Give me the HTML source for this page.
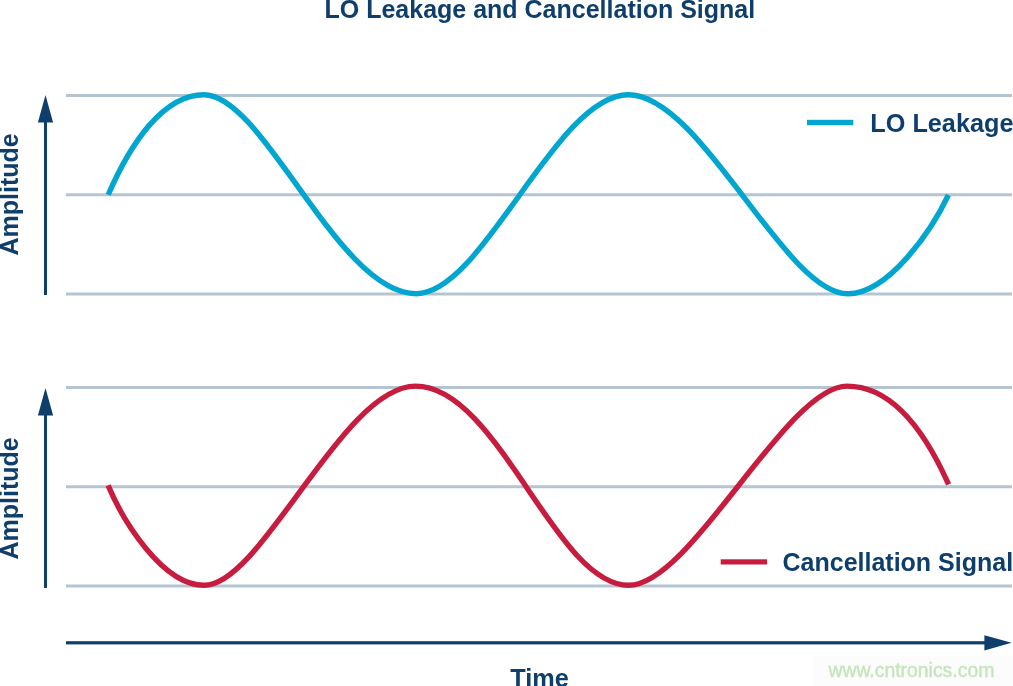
<!DOCTYPE html>
<html><head><meta charset="utf-8"><style>
html,body{margin:0;padding:0;background:#fff;}
body{width:1013px;height:686px;overflow:hidden;position:relative;}
svg{display:block;position:absolute;left:0;top:0;}
text{font-family:"Liberation Sans",sans-serif;}
</style></head><body>
<svg width="1013" height="686" viewBox="0 0 1013 686">
<rect x="0" y="0" width="1013" height="686" fill="#fff"/>
<g fill="none" stroke="#B5C4D2" stroke-width="3">
<line x1="66" y1="95.5" x2="1012" y2="95.5"/>
<line x1="66" y1="194.8" x2="1012" y2="194.8"/>
<line x1="66" y1="294.1" x2="1012" y2="294.1"/>
<line x1="66" y1="387.4" x2="1012" y2="387.4"/>
<line x1="66" y1="486.8" x2="1012" y2="486.8"/>
<line x1="66" y1="586.1" x2="1012" y2="586.1"/>
</g>
<g fill="#0E3F6C">
<rect x="44" y="120" width="3" height="175"/>
<path d="M45.5 95 L53.1 122.6 L37.9 122.6 Z"/>
<rect x="44" y="413" width="3" height="175"/>
<path d="M45.5 388 L53.1 415.6 L37.9 415.6 Z"/>
<rect x="66" y="641.2" width="920" height="3.2"/>
<path d="M1011.6 642.8 L984.4 635.2 L984.4 650.4 Z"/>
</g>
<path d="M108.2 194.8C130.3 143.8 163.0 94.7 203.9 94.7C264.1 94.7 338.0 293.7 416.3 293.7C483.2 293.7 555.8 94.7 628.3 94.7C701.2 94.7 784.4 293.7 847.9 293.7C888.4 293.7 931.8 230.3 948.4 195.0" fill="none" stroke="#00A6CF" stroke-width="5.4" stroke-linejoin="round"/>
<path d="M108.1 485.4C123.1 521.1 162.6 585.3 204.1 585.3C262.0 585.3 342.6 386.1 415.5 386.1C498.2 386.1 554.9 585.3 628.7 585.3C691.1 585.3 786.2 386.1 847.1 386.1C897.1 386.1 929.5 441.5 948.6 484.4" fill="none" stroke="#C81C3E" stroke-width="5.4" stroke-linejoin="round"/>
<rect x="807" y="119.8" width="46.3" height="5.4" fill="#00A6CF"/>
<rect x="720.7" y="559.3" width="46.4" height="5.2" fill="#C81C3E"/>
<g fill="#0E3F6C" font-weight="bold" font-size="25" opacity="0.999">
<text x="324.5" y="17.8">LO Leakage and Cancellation Signal</text>
<text x="870.3" y="131.7" font-size="25.25">LO Leakage</text>
<text x="782.5" y="570.6">Cancellation Signal</text>
<text x="510.3" y="686.7" font-size="25.3">Time</text>
<text transform="translate(17.9 255.5) rotate(-90)">Amplitude</text>
<text transform="translate(17.9 559.5) rotate(-90)">Amplitude</text>
</g>
<rect x="813.3" y="656" width="200" height="30" fill="#FCFCFC"/>
<g opacity="0.999"><text x="828.4" y="676.8" font-size="19.4" fill="#C5E5BD" stroke="#C5E5BD" stroke-width="0.4">www.cntronics.com</text><rect x="0" y="0" width="1" height="1" fill="#fff"/></g>
</svg>
</body></html>
